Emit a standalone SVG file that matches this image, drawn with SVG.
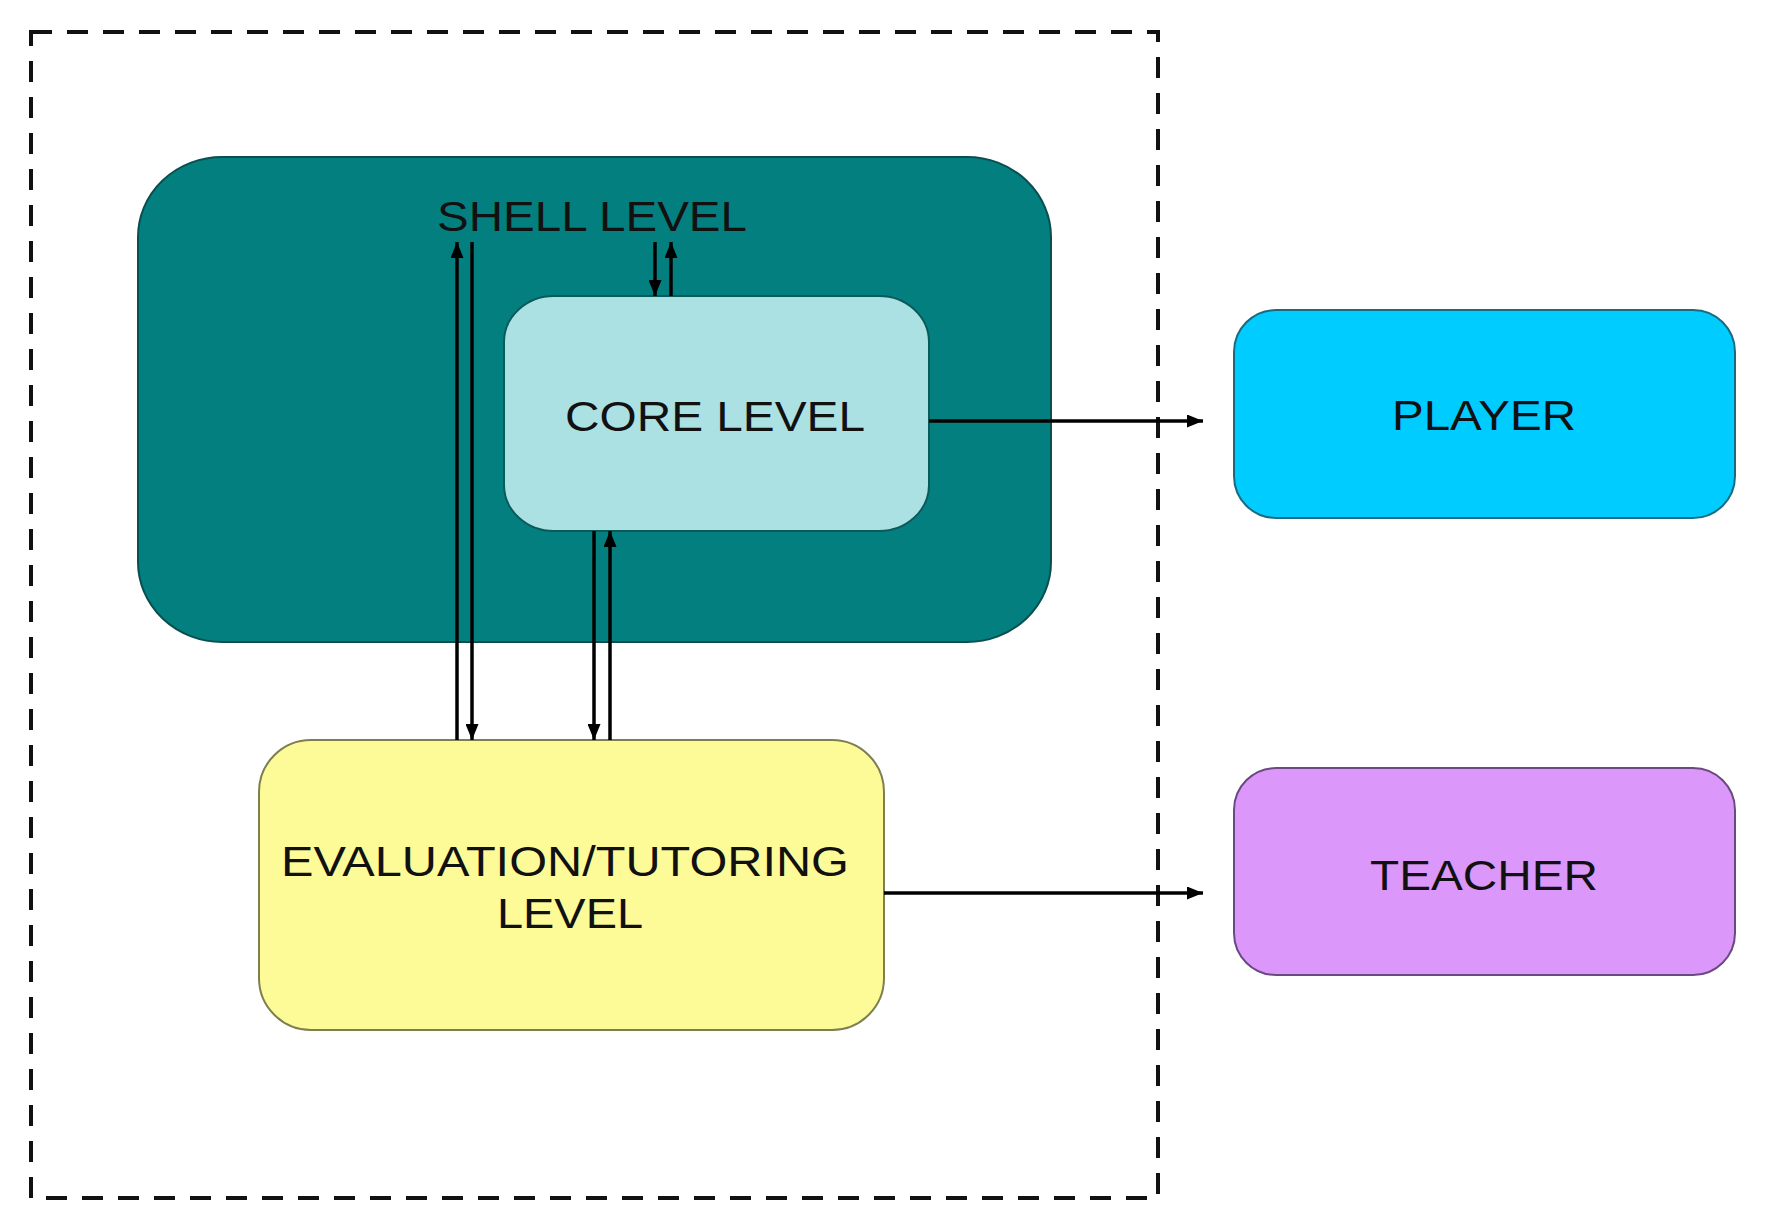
<svg xmlns="http://www.w3.org/2000/svg" width="1767" height="1224" viewBox="0 0 1767 1224">
  <defs>
    <marker id="ah" markerUnits="userSpaceOnUse" markerWidth="16" markerHeight="13" viewBox="0 0 16 13" refX="16" refY="6.5" orient="auto">
      <path d="M0,0 L16,6.5 L0,13 Z" fill="#000"/>
    </marker>
    <style>
      .lbl { font-family: "Liberation Sans", Arial, sans-serif; font-size: 43px; fill: #111; text-anchor: middle; }
      .conn { stroke: #000; stroke-width: 3.5; fill: none; marker-end: url(#ah); }
    </style>
  </defs>
  <rect width="1767" height="1224" fill="#fff"/>

  <g id="boundary">
    <rect x="31" y="32" width="1127" height="1166" fill="none" stroke="#111" stroke-width="4" stroke-dasharray="21 15"/>
  </g>

  <g id="shell">
    <rect x="138" y="157" width="913" height="485" rx="84" ry="80" fill="#047F7F" stroke="#0A4F4F" stroke-width="2"/>
    <text class="lbl" x="592" y="231" textLength="310" lengthAdjust="spacingAndGlyphs">SHELL LEVEL</text>
  </g>

  <g id="core">
    <rect x="504" y="296" width="425" height="235" rx="50" ry="46" fill="#ACE1E4" stroke="#0B5A5A" stroke-width="2"/>
    <text class="lbl" x="715" y="431" textLength="300" lengthAdjust="spacingAndGlyphs">CORE LEVEL</text>
  </g>

  <g id="evaluation">
    <rect x="259" y="740" width="625" height="290" rx="52" ry="52" fill="#FDFB98" stroke="#7E7E50" stroke-width="2"/>
    <text class="lbl" x="565" y="876" textLength="568" lengthAdjust="spacingAndGlyphs">EVALUATION/TUTORING</text>
    <text class="lbl" x="570" y="928" textLength="146" lengthAdjust="spacingAndGlyphs">LEVEL</text>
  </g>

  <g id="player">
    <rect x="1234" y="310" width="501" height="208" rx="42" ry="42" fill="#00CCFF" stroke="#1A6A80" stroke-width="2"/>
    <text class="lbl" x="1484" y="430" textLength="184" lengthAdjust="spacingAndGlyphs">PLAYER</text>
  </g>

  <g id="teacher">
    <rect x="1234" y="768" width="501" height="207" rx="42" ry="42" fill="#DC97FB" stroke="#6A4A80" stroke-width="2"/>
    <text class="lbl" x="1484" y="890" textLength="228" lengthAdjust="spacingAndGlyphs">TEACHER</text>
  </g>

  <g id="connectors">
    <line class="conn" x1="457" y1="740" x2="457" y2="242"/>
    <line class="conn" x1="472" y1="242" x2="472" y2="740"/>
    <line class="conn" x1="594" y1="531" x2="594" y2="740"/>
    <line class="conn" x1="610" y1="740" x2="610" y2="531"/>
    <line class="conn" x1="655" y1="242" x2="655" y2="296"/>
    <line class="conn" x1="671" y1="296" x2="671" y2="242"/>
    <line class="conn" x1="929" y1="421" x2="1203" y2="421"/>
    <line class="conn" x1="884" y1="893" x2="1203" y2="893"/>
  </g>
</svg>
